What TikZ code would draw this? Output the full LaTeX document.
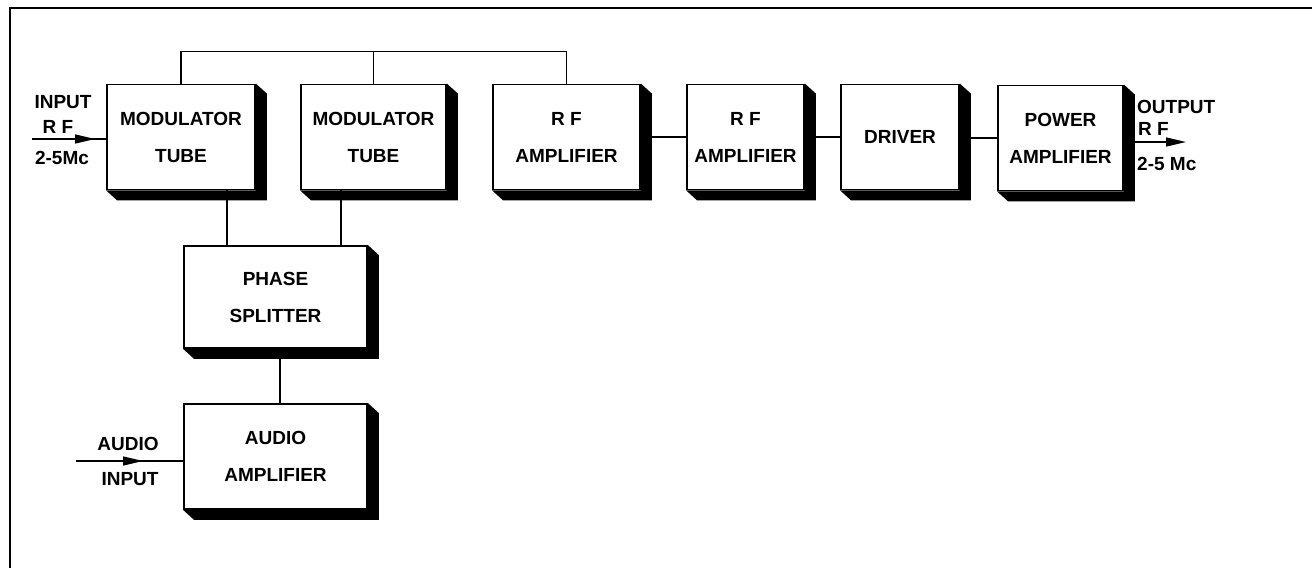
\documentclass[tikz,border=0pt]{standalone}
\usepackage{fontspec}
\setmainfont{Liberation Sans}
\usepackage{tikz}
\usetikzlibrary{arrows.meta}

\tikzset{
  block/.style={draw, fill=white, line width=1.8pt, inner sep=0pt, align=center,
    minimum height=105pt, font=\bfseries\fontsize{19}{37}\selectfont},
  lbl/.style={inner sep=0pt, font=\bfseries\fontsize{19}{22}\selectfont},
  wire/.style={line width=1.4pt},
  head/.style={line width=1.4pt, -{Triangle[length=20pt,width=9pt]}}
}

\begin{document}
\begin{tikzpicture}[x=1pt,y=-1pt]
\useasboundingbox (0,0) rectangle (1312,568);
% frame
\draw [line width=2pt] (1312,8)--(10,8)--(10,568);

% blocks
\node [block, minimum width=148pt] (mod1) at (181,137) {MODULATOR\\TUBE};
\node [block, minimum width=145pt] (mod2) at (373.5,137) {MODULATOR\\TUBE};
\node [block, minimum width=147pt] (rf1) at (566.5,137) {R F\\AMPLIFIER};
\node [block, minimum width=117pt] (rf2) at (745.5,137) {R F\\AMPLIFIER};
\node [block, minimum width=118pt] (drv) at (900,137) {DRIVER};
\node [block, minimum width=125pt] (pwr) at (1060.5,138) {POWER\\AMPLIFIER};
\node [block, minimum width=183pt, minimum height=102pt] (phase) at (275.5,297) {PHASE\\SPLITTER};
\node [block, minimum width=183pt] (audio) at (275.5,456.5) {AUDIO\\AMPLIFIER};

% shadows
\foreach \n in {mod1,mod2,rf1,rf2,drv,pwr,phase,audio}
  \fill (\n.north east)--([shift={(11,10)}]\n.north east)--([shift={(11,10)}]\n.south east)
    --([shift={(11,10)}]\n.south west)--(\n.south west)--(\n.south east)--cycle;

% top bus
\draw [wire] (mod1.north)--+(0,-32) -| (rf1.north);
\draw [wire] (mod2.north)--+(0,-32);

% chain
\draw [wire] (rf1.east)--(rf2.west);
\draw [wire] (rf2.east)--(drv.west);
\draw [wire] (drv.east |- pwr.west)--(pwr.west);

% to phase splitter
\draw [wire] ([xshift=46pt]mod1.south)--([xshift=46pt]mod1.south |- phase.north);
\draw [wire] ([xshift=-32.5pt]mod2.south)--([xshift=-32.5pt]mod2.south |- phase.north);
\draw [wire] ([xshift=4.5pt]phase.south)--([xshift=4.5pt]phase.south |- audio.north);

% rf input
\coordinate (rfin) at (32,139);
\draw [wire] (rfin)--(rfin -| mod1.west);
\draw [head] (rfin)--++(63,0);
\node [lbl] (inlbl) at (63,102) {INPUT};
\node [lbl] (inrf) at (58,127) {R F};
\node [lbl] (infreq) at (62,158) {2-5Mc};

% rf output
\coordinate (rfout) at (1186,142);
\draw [head] (pwr.east |- rfout)--(rfout);
\node [lbl, anchor=west] (outlbl) at (1137,107) {OUTPUT};
\node [lbl, anchor=west] (outrf) at (1138,129) {R F};
\node [lbl, anchor=west] (outfreq) at (1137,164) {2-5 Mc};

% audio input
\coordinate (afin) at (76,461);
\draw [wire] (afin)--(afin -| audio.west);
\draw [head] (afin)--++(67,0);
\node [lbl] (aulbl) at (128,444) {AUDIO};
\node [lbl] (auin) at (130,479) {INPUT};
\end{tikzpicture}
\end{document}
